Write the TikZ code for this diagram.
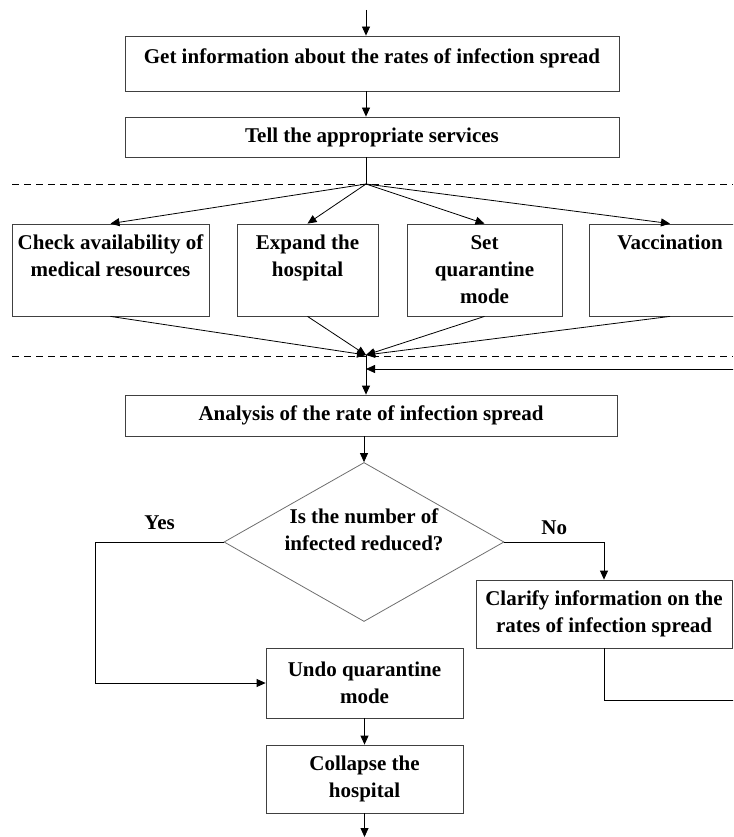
\documentclass[tikz,border=0pt]{standalone}
\usepackage{fontspec}
\setmainfont{Liberation Serif}
\usetikzlibrary{arrows.meta,shapes.geometric}

\definecolor{boxgray}{RGB}{64,64,64}
\definecolor{diagray}{RGB}{110,110,110}

\begin{document}
\begin{tikzpicture}[x=1pt, y=-1pt,
    box/.style={draw=boxgray, line width=0.8pt, inner sep=0pt, align=center,
        font=\fontsize{21pt}{27pt}\selectfont\bfseries},
    decision/.style={diamond, draw=diagray, line width=0.8pt, inner sep=0pt, aspect=1.76,
        align=center, font=\fontsize{21pt}{27pt}\selectfont\bfseries},
    lbl/.style={inner sep=0pt, font=\fontsize{21pt}{27pt}\selectfont\bfseries},
    arr/.style={line width=0.8pt, -{Triangle[length=9pt,width=8pt]}},
    sep/.style={line width=0.8pt, dash pattern=on 7pt off 5pt}]

    \useasboundingbox (0,0) rectangle (733,837);
    \clip (0,0) rectangle (733,837);

    % Branch points and loose ends
    \coordinate (start) at (366,10);
    \coordinate (hub1) at (366,184);
    \coordinate (hub2) at (366,355);
    \coordinate (join) at (366,369);
    \coordinate (loop) at (790,700);
    \coordinate (stop) at (364.5,837);

    % Incoming information
    \node[box, minimum width=494pt, text height=28pt, text depth=27pt] (getinfo) at (372,63.5) {Get information about the rates of infection spread};
    \node[box, minimum width=494pt, minimum height=40pt] (tell) at (372,137) {Tell the appropriate services};

    \draw[arr] (start) -- (getinfo.north -| start);
    \draw[arr] (getinfo.south -| start) -- (tell.north -| start);
    \draw[line width=0.8pt] (tell.south -| hub1) -- (hub1);

    % Measures taken by the services (text hangs from the top edge)
    \node[box, minimum width=197pt, text height=52pt, text depth=40pt] (check) at (110.5,270) {Check availability of\\medical resources};
    \node[box, minimum width=141pt, text height=52pt, text depth=40pt] (expand) at (307.5,270) {Expand the\\hospital};
    \node[box, minimum width=155pt, text height=79pt, text depth=13pt] (setq) at (484.5,270) {Set\\quarantine\\mode};
    \node[box, minimum width=162pt, text height=25pt, text depth=67pt] (vacc) at (670,270) {Vaccination};

    \draw[sep] (12,184) -- (733,184);
    \draw[sep] (12,356) -- (733,356);

    \foreach \n in {check, expand, setq, vacc} {
        \draw[arr] (hub1) -- (\n.north);
        \draw[arr] (\n.south) -- (hub2);
    }

    % Analysis and decision
    \node[box, minimum width=492pt, minimum height=41pt] (analysis) at (371,415.5) {Analysis of the rate of infection spread};
    \node[decision, minimum width=280pt, minimum height=159pt, text height=31pt, text depth=15pt] (reduced) at (364,542) {Is the number of\\infected reduced?};

    \draw[arr] (hub2) -- (analysis.north -| hub2);
    \draw[arr] (reduced.north |- analysis.south) -- (reduced.north);

    % No: clarify and go round again
    \node[box, minimum width=256pt, minimum height=68pt] (clarify) at (604,614) {Clarify information on the\\rates of infection spread};
    \draw[arr] (reduced.east) -| node (no) [lbl, pos=0.25, above=7pt] {No} (clarify.north);
    \draw[arr] (clarify.south) |- (loop) |- (join);

    % Yes: lift the measures
    \node[box, minimum width=197pt, minimum height=70pt] (undo) at (364.5,683) {Undo quarantine\\mode};
    \node[box, minimum width=197pt, minimum height=68pt] (collapse) at (364.5,779) {Collapse the\\hospital};

    \draw[arr] (reduced.west) -- ++(-128,0) node (yes) [lbl, midway, above=12pt] {Yes} |- (undo.west);
    \draw[arr] (undo.south) -- (collapse.north);
    \draw[arr] (collapse.south) -- (stop);

\end{tikzpicture}
\end{document}
